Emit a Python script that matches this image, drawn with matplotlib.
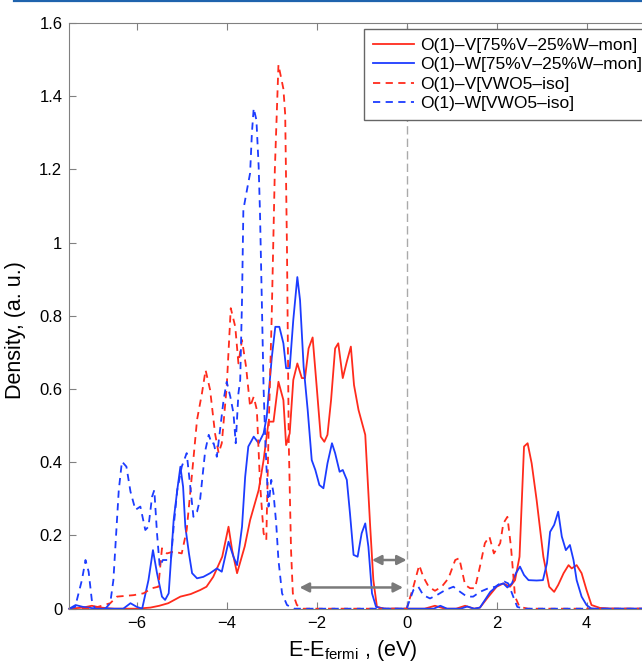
import matplotlib
matplotlib.use("Agg")
import matplotlib.pyplot as plt
from matplotlib.lines import Line2D
from matplotlib.ticker import FormatStrFormatter

plt.rcParams["font.family"] = ["Liberation Sans", "DejaVu Sans"]
plt.rcParams["mathtext.fontset"] = "custom"
plt.rcParams["mathtext.rm"] = "Liberation Sans"
plt.rcParams["mathtext.it"] = "Liberation Sans:italic"

RED = "#ff2b1c"
BLUE = "#1c3cff"
GREY = "#808080"

LABELS = [
    "O(1)–V[75%V–25%W–mon]",
    "O(1)–W[75%V–25%W–mon]",
    "O(1)–V[VWO5–iso]",
    "O(1)–W[VWO5–iso]",
]

# O(1)-V, 75%V-25%W monoclinic
v_mon_x = [-7.5, -7.2, -7.0, -6.8, -6.5, -6.0, -5.7, -5.5, -5.3, -5.03,
           -4.8, -4.59, -4.45, -4.3, -4.1, -3.96, -3.88, -3.77, -3.6, -3.48,
           -3.29, -3.18, -3.07, -2.96, -2.85, -2.74, -2.68, -2.6, -2.52, -2.43,
           -2.33, -2.26, -2.18, -2.09, -2.0, -1.91, -1.83, -1.76, -1.68, -1.59,
           -1.52, -1.42, -1.33, -1.24, -1.17, -1.07, -0.92, -0.81, -0.74, -0.66,
           -0.5, 0.0, 0.4, 0.63, 0.85, 1.1, 1.3, 1.5, 1.63, 1.8,
           2.0, 2.15, 2.3, 2.41, 2.51, 2.61, 2.69, 2.78, 2.89, 3.04,
           3.17, 3.28, 3.37, 3.49, 3.6, 3.67, 3.78, 3.89, 4.0, 4.11,
           4.3, 4.6, 6.0]
v_mon_y = [0, 0.003, 0.008, 0.003, 0, 0, 0.003, 0.008, 0.015, 0.033,
           0.04, 0.051, 0.06, 0.087, 0.142, 0.224, 0.16, 0.097, 0.17, 0.242,
           0.324, 0.406, 0.511, 0.511, 0.62, 0.57, 0.447, 0.479, 0.625, 0.67,
           0.63, 0.63, 0.711, 0.741, 0.607, 0.47, 0.456, 0.475, 0.57, 0.711,
           0.725, 0.63, 0.675, 0.716, 0.611, 0.543, 0.475, 0.224, 0.078, 0.005,
           0, 0, 0, 0.008, 0, 0, 0.008, 0, 0.003, 0.03,
           0.06, 0.069, 0.06, 0.078, 0.142, 0.443, 0.452, 0.397, 0.297, 0.142,
           0.06, 0.046, 0.065, 0.097, 0.119, 0.11, 0.119, 0.097, 0.051, 0.01,
           0.002, 0, 0]

# O(1)-W, 75%V-25%W monoclinic
w_mon_x = [-7.5, -7.36, -7.2, -6.9, -6.3, -6.14, -6.0, -5.88, -5.74, -5.64,
           -5.55, -5.44, -5.37, -5.29, -5.18, -5.1, -5.03, -4.97, -4.92, -4.84,
           -4.77, -4.66, -4.52, -4.37, -4.22, -4.11, -3.96, -3.85, -3.77, -3.66,
           -3.59, -3.52, -3.4, -3.29, -3.18, -3.11, -3.0, -2.92, -2.83, -2.74,
           -2.68, -2.6, -2.52, -2.43, -2.37, -2.29, -2.2, -2.11, -2.03, -1.94,
           -1.85, -1.76, -1.66, -1.59, -1.49, -1.42, -1.33, -1.26, -1.18, -1.09,
           -1.0, -0.92, -0.85, -0.77, -0.68, -0.5, 0.6, 0.75, 0.9, 1.2,
           1.35, 1.5, 1.63, 1.86, 2.04, 2.15, 2.24, 2.34, 2.43, 2.52,
           2.61, 2.71, 2.89, 3.03, 3.12, 3.19, 3.28, 3.37, 3.45, 3.54,
           3.63, 3.71, 3.78, 3.89, 4.0, 4.11, 6.0]
w_mon_y = [0, 0.01, 0.005, 0, 0, 0.015, 0.005, 0, 0.078, 0.16,
           0.097, 0.033, 0.024, 0.042, 0.242, 0.324, 0.388, 0.333, 0.224, 0.151,
           0.097, 0.083, 0.087, 0.097, 0.11, 0.101, 0.183, 0.142, 0.119, 0.224,
           0.36, 0.443, 0.47, 0.452, 0.479, 0.525, 0.684, 0.77, 0.77, 0.725,
           0.657, 0.657, 0.789, 0.906, 0.843, 0.661, 0.543, 0.406, 0.379, 0.338,
           0.329, 0.397, 0.452, 0.425, 0.374, 0.379, 0.352, 0.261, 0.147, 0.142,
           0.206, 0.233, 0.169, 0.042, 0.005, 0, 0, 0.008, 0, 0,
           0.006, 0, 0.003, 0.046, 0.065, 0.069, 0.058, 0.069, 0.097, 0.115,
           0.092, 0.078, 0.077, 0.078, 0.124, 0.21, 0.229, 0.265, 0.197, 0.16,
           0.174, 0.133, 0.078, 0.033, 0.01, 0, 0]

# O(1)-V, VWO5 isolated
v_iso_x = [-7.5, -7.0, -6.59, -6.44, -6.07, -5.85, -5.66, -5.52, -5.44, -5.33,
           -5.18, -5.0, -4.89, -4.77, -4.66, -4.55, -4.47, -4.37, -4.26, -4.18,
           -4.11, -4.0, -3.91, -3.81, -3.74, -3.66, -3.57, -3.48, -3.4, -3.33,
           -3.26, -3.18, -3.12, -3.07, -3.0, -2.93, -2.85, -2.74, -2.7, -2.66,
           -2.62, -2.57, -2.53, -2.44, -2.3, 0.0, 0.15, 0.28, 0.37, 0.49,
           0.63, 0.78, 0.93, 1.08, 1.17, 1.3, 1.41, 1.52, 1.63, 1.74,
           1.84, 1.94, 2.08, 2.15, 2.24, 2.32, 2.41, 2.51, 2.7, 6.0]
v_iso_y = [0, 0, 0.015, 0.033, 0.037, 0.042, 0.056, 0.06, 0.165, 0.151,
           0.156, 0.151, 0.215, 0.37, 0.516, 0.589, 0.652, 0.598, 0.479, 0.425,
           0.452, 0.607, 0.821, 0.77, 0.67, 0.734, 0.661, 0.552, 0.579, 0.543,
           0.343, 0.206, 0.188, 0.479, 0.798, 1.2, 1.486, 1.42, 1.35, 0.98,
           0.45, 0.16, 0.042, 0.01, 0, 0, 0.06, 0.119, 0.087, 0.06,
           0.049, 0.06, 0.083, 0.133, 0.138, 0.065, 0.056, 0.056, 0.115, 0.179,
           0.197, 0.151, 0.179, 0.233, 0.251, 0.169, 0.033, 0.005, 0, 0]

# O(1)-W, VWO5 isolated
w_iso_x = [-7.5, -7.37, -7.22, -7.14, -7.07, -7.0, -6.93, -6.7, -6.59, -6.52,
           -6.4, -6.33, -6.23, -6.14, -6.03, -5.92, -5.81, -5.74, -5.66, -5.61,
           -5.55, -5.49, -5.42, -5.33, -5.24, -5.18, -5.1, -5.0, -4.89, -4.81,
           -4.74, -4.66, -4.59, -4.48, -4.4, -4.33, -4.29, -4.22, -4.14, -4.07,
           -4.0, -3.92, -3.85, -3.8, -3.74, -3.7, -3.66, -3.63, -3.55, -3.48,
           -3.44, -3.4, -3.34, -3.29, -3.26, -3.22, -3.18, -3.14, -3.11, -3.07,
           -3.01, -2.96, -2.9, -2.85, -2.77, -2.66, -2.5, 0.0, 0.15, 0.26,
           0.37, 0.52, 0.67, 0.86, 1.04, 1.19, 1.34, 1.48, 1.63, 1.82,
           1.97, 2.08, 2.17, 2.26, 2.37, 2.46, 2.6, 6.0]
w_iso_y = [0, 0.005, 0.078, 0.133, 0.101, 0.024, 0, 0, 0.015, 0.078,
           0.324, 0.402, 0.388, 0.32, 0.27, 0.279, 0.215, 0.224, 0.306, 0.324,
           0.206, 0.115, 0.133, 0.133, 0.133, 0.224, 0.324, 0.388, 0.425, 0.333,
           0.251, 0.265, 0.3, 0.43, 0.475, 0.45, 0.452, 0.415, 0.497, 0.57,
           0.62, 0.579, 0.534, 0.452, 0.588, 0.625, 0.843, 1.09, 1.144, 1.19,
           1.30, 1.367, 1.335, 1.208, 1.08, 0.843, 0.6, 0.452, 0.37, 0.279,
           0.352, 0.315, 0.233, 0.133, 0.042, 0.01, 0, 0, 0.051, 0.06,
           0.037, 0.028, 0.037, 0.051, 0.06, 0.046, 0.033, 0.033, 0.046, 0.056,
           0.06, 0.069, 0.074, 0.069, 0.033, 0.005, 0, 0]

# band gap arrows: (start, end, height)
gap_arrows = [(-0.77, 0.0, 0.133), (-2.38, -0.08, 0.058)]

x_ticks = [-6, -4, -2, 0, 2, 4]
y_ticks = [0, 0.2, 0.4, 0.6, 0.8, 1.0, 1.2, 1.4, 1.6]

W, H = 642, 663
fig = plt.figure(figsize=(W / 100, H / 100), dpi=100)
# the axes runs past the right edge of the picture, as in the cropped original
ax = fig.add_axes([69.3 / W, 1 - 608.7 / H, (676.5 - 69.3) / W, (608.7 - 23) / H])

lw = 1.3
dash = (0, (4, 3))
ax.plot(v_mon_x, v_mon_y, color=RED, lw=lw, label=LABELS[0], clip_on=False)
ax.plot(w_mon_x, w_mon_y, color=BLUE, lw=lw, label=LABELS[1], clip_on=False)
ax.plot(v_iso_x, v_iso_y, color=RED, lw=lw, ls=dash, label=LABELS[2], clip_on=False)
ax.plot(w_iso_x, w_iso_y, color=BLUE, lw=lw, ls=dash, label=LABELS[3], clip_on=False)

ax.axvline(0, color="#aaaaaa", lw=1.0, ls=(0, (6, 3)), zorder=1)

for x0, x1, yy in gap_arrows:
    ax.annotate("", xy=(x1, yy), xytext=(x0, yy),
                arrowprops=dict(arrowstyle="<|-|>,head_length=0.55,head_width=0.28",
                                color="#7a7a7a", lw=1.8, shrinkA=0, shrinkB=0))

ax.set_xlim(-7.5, 6)
ax.set_ylim(0, 1.6)
ax.set_xticks(x_ticks)
ax.set_yticks(y_ticks)
ax.yaxis.set_major_formatter(FormatStrFormatter("%g"))
ax.tick_params(direction="in", length=5, width=0.8, color=GREY,
               top=True, right=True, labelsize=12, pad=5)
for side in ax.spines.values():
    side.set_color(GREY)
    side.set_linewidth(0.8)

ax.set_xlabel(r"E-E$_{\mathrm{fermi}}$ , (eV)", fontsize=15.5)
ax.xaxis.set_label_coords((353 - 69.3) / (676.5 - 69.3), -0.05)
ax.set_ylabel("Density, (a. u.)", fontsize=15.5)
ax.yaxis.set_label_coords(-0.072, (608.7 - 330) / (608.7 - 23))

ax.legend(loc="upper left", bbox_to_anchor=(364 / W, 1 - 29 / H),
          bbox_transform=fig.transFigure, fontsize=12.5, frameon=True,
          fancybox=False, edgecolor="#666666", framealpha=1,
          handlelength=2.4, handletextpad=0.35, labelspacing=0.25,
          borderpad=0.5, borderaxespad=0)

# journal page rule along the top
fig.add_artist(Line2D([14 / W, 1], [1 - 1.2 / H, 1 - 1.2 / H], color="#1f63ad", lw=1.6))

fig.savefig("out.png", dpi=100)
plt.close(fig)
